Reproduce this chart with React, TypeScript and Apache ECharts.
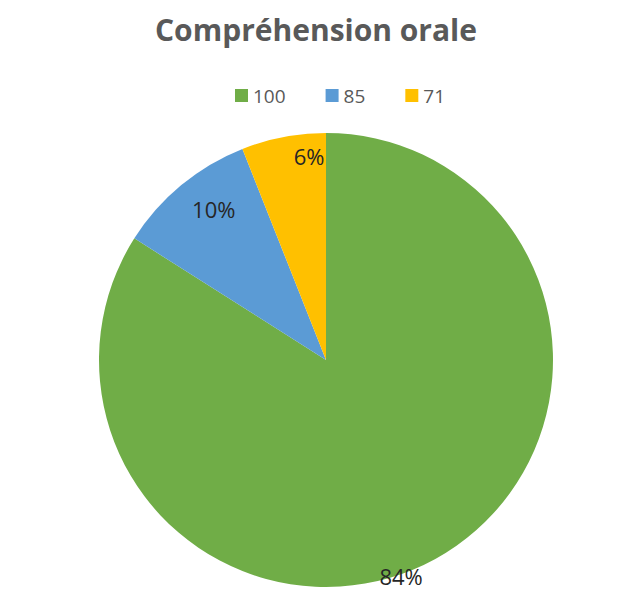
import React, { useEffect, useRef } from "react";
import * as echarts from "echarts";

const categories = ["100", "85", "71"];
const values = [84, 10, 6];
const colors = ["#70AD47", "#5B9BD5", "#FFC000"];
const labelShift: [number, number][] = [
  [19, 114],
  [-38, -61],
  [5, -90],
];

export default function App() {
  const ref = useRef<HTMLDivElement>(null);
  useEffect(() => {
    if (!ref.current) return;
    const chart = echarts.init(ref.current, null, { renderer: "svg" });
    chart.setOption({
      animation: false,
      backgroundColor: "#ffffff",
      color: colors,
      title: {
        text: "Compréhension orale",
        left: "center",
        top: 9,
        textStyle: {
          fontFamily: "Open Sans",
          fontWeight: "bold",
          fontSize: 30,
          color: "#595959",
        },
      },
      legend: {
        top: 81,
        left: 230,
        icon: "rect",
        itemWidth: 13,
        itemHeight: 13,
        itemGap: 40,
        textStyle: {
          fontFamily: "Open Sans",
          fontSize: 19,
          color: "#595959",
        },
        data: categories,
      },
      series: [
        {
          type: "pie",
          center: [326, 360],
          radius: [0, 227],
          startAngle: 90,
          clockwise: true,
          data: categories.map((c, i) => ({ name: c, value: values[i] })),
          itemStyle: { borderWidth: 0 },
          label: {
            show: true,
            position: "inside",
            formatter: "{d}%",
            fontFamily: "Open Sans",
            fontSize: 22,
            color: "#262626",
          },
          labelLayout: (params: any) => {
            const s = labelShift[params.dataIndex] || [0, 0];
            return { dx: s[0], dy: s[1] };
          },
          emphasis: { disabled: true },
        },
      ],
    });
    return () => chart.dispose();
  }, []);
  return (
    <div
      ref={ref}
      style={{
        position: "fixed",
        left: 0,
        top: 0,
        width: 632,
        height: 611,
      }}
    />
  );
}
